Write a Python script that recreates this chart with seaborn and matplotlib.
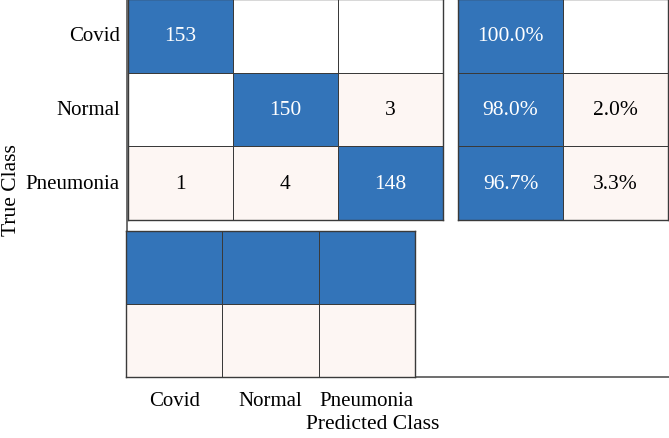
import numpy as np
import pandas as pd
import matplotlib
matplotlib.use("Agg")
import matplotlib.pyplot as plt
from matplotlib.colors import ListedColormap
import seaborn as sns

classes = ["Covid", "Normal", "Pneumonia"]
conf = np.array([[153, 0, 0],
                 [0, 150, 3],
                 [1, 4, 148]])

sns.set_style("white")
plt.rcParams["font.family"] = ["Liberation Serif", "DejaVu Serif"]
plt.rcParams["text.color"] = "black"
plt.rcParams["xtick.color"] = "black"
plt.rcParams["ytick.color"] = "black"

blue = "#3374b9"
light = "#fdf6f3"
edge = "#3a3a3a"
cmap = ListedColormap(["white", light, blue])
lw = 0.7

W, H = 669, 439
fig = plt.figure(figsize=(W / 100, H / 100), dpi=100)


def px_axes(x0, y0, x1, y1):
    return fig.add_axes([x0 / W, 1 - y1 / H, (x1 - x0) / W, (y1 - y0) / H])


def fix_text(a):
    for t in a.texts:
        if t.get_color() not in ("w", "white"):
            t.set_color("black")
    for s in a.spines.values():
        s.set_visible(True)
        s.set_color(edge)
        s.set_linewidth(1.0)


# outer frame (left and bottom lines of the chart area)
frame = px_axes(127, 0, 669, 378)
frame.set_xticks([])
frame.set_yticks([])
for s in ["top", "right"]:
    frame.spines[s].set_visible(False)
for s in ["left", "bottom"]:
    frame.spines[s].set_color("#555555")
    frame.spines[s].set_linewidth(1.2)
frame.patch.set_alpha(0)

# main matrix
levels = np.where(np.eye(3, dtype=bool), 2, np.where(conf > 0, 1, 0))
annot = np.where(conf > 0, conf.astype(str), "")
ax = px_axes(128, 0, 443, 221)
sns.heatmap(pd.DataFrame(levels, index=classes, columns=classes), ax=ax,
            cmap=cmap, vmin=0, vmax=2, cbar=False, annot=annot, fmt="",
            linewidths=lw, linecolor=edge,
            annot_kws={"fontsize": 15.5})
ax.set_xticks([])
ax.set_yticklabels(classes, rotation=0, fontsize=15)
ax.tick_params(axis="y", length=0, pad=6)
ax.set_xlabel("")
ax.set_ylabel("")
fix_text(ax)

# row summary (recall / miss rate)
totals = conf.sum(axis=1)
correct = np.diag(conf) / totals * 100
wrong = 100 - correct
row_vals = np.column_stack([correct, wrong])
row_levels = np.column_stack([np.full(3, 2), np.where(wrong > 0.05, 1, 0)])
row_annot = np.array([[f"{v:.1f}%" if v > 0.05 else "" for v in r] for r in row_vals])
axr = px_axes(458, 0, 668, 221)
sns.heatmap(row_levels, ax=axr, cmap=cmap, vmin=0, vmax=2, cbar=False,
            annot=row_annot, fmt="", linewidths=lw, linecolor=edge,
            annot_kws={"fontsize": 15.5})
axr.set_xticks([])
axr.set_yticks([])
fix_text(axr)

# column summary
col_levels = np.array([[2, 2, 2], [1, 1, 1]])
axb = px_axes(126, 232, 415, 378)
sns.heatmap(pd.DataFrame(col_levels, columns=classes), ax=axb, cmap=cmap,
            vmin=0, vmax=2, cbar=False, linewidths=lw, linecolor=edge)
axb.set_yticks([])
axb.set_xticklabels(classes, rotation=0, fontsize=15)
axb.tick_params(axis="x", length=0, pad=10)
fix_text(axb)

fig.text(373 / W, 1 - 425 / H, "Predicted Class", ha="center", va="center", fontsize=15.5)
fig.text(12 / W, 1 - 190 / H, "True Class", ha="center", va="center",
         rotation=90, fontsize=15.5)

fig.savefig("out.png", dpi=100)
